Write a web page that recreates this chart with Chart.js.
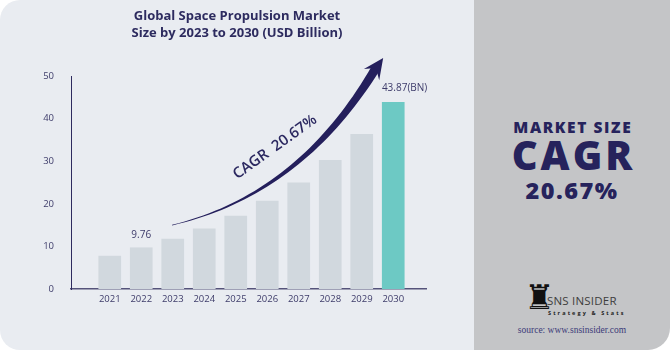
<!DOCTYPE html>
<html>
<head>
<meta charset="utf-8">
<script src="https://cdn.jsdelivr.net/npm/chart.js@4.4.1/dist/chart.umd.min.js"></script>
<style>
  html, body { margin: 0; padding: 0; background: #ffffff; }
  #wrap { position: relative; width: 670px; height: 350px; overflow: hidden; font-family: "Open Sans", sans-serif; }
  #left { position: absolute; left: 0; top: 0; width: 474px; height: 350px; background: #e9ecf1; border-radius: 20px 0 0 20px; }
  #right { position: absolute; left: 474px; top: 0; width: 196px; height: 350px; background: #c4c5c7; border-radius: 0 0 22px 0; }
  #chart { position: absolute; left: 0; top: 0; }
  #title { position: absolute; left: 0; top: 7px; width: 474px; text-align: center; color: #2d2b5f;
           font-size: 13px; font-weight: 700; line-height: 17px; }
  .big { position: absolute; left: 0; width: 196px; text-align: center; color: #26235c; font-weight: 800; line-height: 1; white-space: nowrap; }
  #ms { top: 120px; font-size: 15.5px; letter-spacing: 1.6px; text-indent: 1.6px; }
  #cagr { top: 135px; font-size: 40px; letter-spacing: 3px; text-indent: 3px; }
  #pct { top: 179px; font-size: 23.5px; letter-spacing: 1.5px; }
  #rook { position: absolute; left: 50px; top: 280px; font-family: "DejaVu Sans"; font-size: 34px; line-height: 1; color: #111; }
  #sns { position: absolute; left: 73px; top: 295px; font-size: 11.5px; color: #3d3d3d; letter-spacing: 0.2px; line-height: 1; }
  #tag { position: absolute; left: 74px; top: 311px; font-size: 5.5px; font-weight: 700; color: #222; letter-spacing: 2.1px; line-height: 1; }
  #src { position: absolute; left: 0; width: 196px; text-align: center; top: 326px; font-family: "Liberation Serif", serif; font-size: 9.5px; color: #3b3a78; line-height: 1; }
</style>
</head>
<body>
<div id="wrap">
  <div id="left">
    <canvas id="chart" width="474" height="350"></canvas>
    <div id="title">Global Space Propulsion Market<br>Size by 2023 to 2030 (USD Billion)</div>
  </div>
  <div id="right">
    <div class="big" id="ms">MARKET SIZE</div>
    <div class="big" id="cagr">CAGR</div>
    <div class="big" id="pct">20.67%</div>
    <div id="rook">♜</div>
    <div id="sns">SNS INSIDER</div>
    <div id="tag">Strategy &amp; Stats</div>
    <div id="src">source: www.snsinsider.com</div>
  </div>
</div>
<script>
// data
const years = [2021, 2022, 2023, 2024, 2025, 2026, 2027, 2028, 2029, 2030];
const marketSize = [7.8, 9.76, 11.8, 14.2, 17.2, 20.7, 25.0, 30.3, 36.4, 43.87];
const valueLabels = ["", "9.76", "", "", "", "", "", "", "", "43.87(BN)"];
const yTicks = [0, 10, 20, 30, 40, 50];

// arrow drawn in data space: start, control, end of body, tip
const arrowPath = [[2022.98, 15.0], [2027.04, 22.1], [2029.45, 51.9], [2029.68, 54.2]];
const cagrText = "CAGR  20.67%";

const barColors = years.map((y, i) => i === years.length - 1 ? "#6dc9c4" : "#d1d8de");

const valueLabelPlugin = {
  id: "valueLabels",
  afterDatasetsDraw(chart) {
    const ctx = chart.ctx;
    const meta = chart.getDatasetMeta(0);
    ctx.save();
    ctx.font = '10px "Open Sans"';
    ctx.fillStyle = "#3d3b6a";
    ctx.textBaseline = "middle";
    meta.data.forEach((bar, i) => {
      const t = valueLabels[i];
      if (!t) return;
      if (i === meta.data.length - 1) {//last label sits from the bar's left edge
        ctx.textAlign = "left";
        ctx.fillText(t, bar.x - bar.width / 2, bar.y - 13.5);
      } else {
        ctx.textAlign = "center";
        ctx.fillText(t, bar.x, bar.y - 12.5);
      }
    });
    ctx.restore();
  }
};

const arrowPlugin = {
  id: "cagrArrow",
  afterDraw(chart) {
    const { ctx, scales: { x, y } } = chart;
    const P = arrowPath.map(p => [x.getPixelForValue(p[0]), y.getPixelForValue(p[1])]);
    const [p0, c, p2, tip] = P;
    const left = [], right = [];
    const n = 40;
    for (let i = 0; i <= n; i++) {
      const t = i / n;
      const bx = (1 - t) * (1 - t) * p0[0] + 2 * (1 - t) * t * c[0] + t * t * p2[0];
      const by = (1 - t) * (1 - t) * p0[1] + 2 * (1 - t) * t * c[1] + t * t * p2[1];
      const dx = 2 * (1 - t) * (c[0] - p0[0]) + 2 * t * (p2[0] - c[0]);
      const dy = 2 * (1 - t) * (c[1] - p0[1]) + 2 * t * (p2[1] - c[1]);
      const len = Math.hypot(dx, dy);
      const nx = -dy / len, ny = dx / len;
      const w = 0.3 + 4.2 * Math.pow(t, 1.3);
      left.push([bx + nx * w, by + ny * w]);
      right.push([bx - nx * w, by - ny * w]);
    }
    ctx.save();
    ctx.fillStyle = "#241f5c";
    ctx.beginPath();
    ctx.moveTo(left[0][0], left[0][1]);
    left.forEach(p => ctx.lineTo(p[0], p[1]));
    for (let i = right.length - 1; i >= 0; i--) ctx.lineTo(right[i][0], right[i][1]);
    ctx.closePath();
    ctx.fill();

    // head
    const hx = tip[0] - p2[0], hy = tip[1] - p2[1];
    const hl = Math.hypot(hx, hy);
    const ux = hx / hl, uy = hy / hl;
    const vx = -uy, vy = ux;
    const back = [p2[0] - ux * 8, p2[1] - uy * 8];
    ctx.beginPath();
    ctx.moveTo(tip[0], tip[1]);
    ctx.lineTo(back[0] + vx * 10, back[1] + vy * 10);
    ctx.lineTo(p2[0], p2[1]);
    ctx.lineTo(back[0] - vx * 9, back[1] - vy * 9);
    ctx.closePath();
    ctx.fill();

    // CAGR label along the arrow
    const tx = x.getPixelForValue(2026.25), ty = y.getPixelForValue(33.3);
    ctx.translate(tx, ty);
    ctx.rotate(-35.6 * Math.PI / 180);
    ctx.font = '600 15px "Open Sans"';
    ctx.fillStyle = "#2b2860";
    ctx.textAlign = "center";
    ctx.textBaseline = "middle";
    ctx.fillText(cagrText, 0, 0);
    ctx.restore();
  }
};

const tickFont = { family: "Open Sans", size: 9.5 };

new Chart(document.getElementById("chart"), {
  type: "bar",
  data: {
    datasets: [{
      data: years.map((yr, i) => ({ x: yr, y: marketSize[i] })),
      backgroundColor: barColors,
      borderWidth: 0,
      barPercentage: 0.72,
      categoryPercentage: 1
    }]
  },
  options: {
    responsive: false,
    animation: false,
    devicePixelRatio: 1,
    layout: { padding: { top: 76, right: 48, bottom: 31, left: 0 } },
    plugins: { legend: { display: false }, tooltip: { enabled: false } },
    scales: {
      x: {
        type: "linear",
        offset: false,
        min: 2019.77,
        max: 2031.04,
        afterBuildTicks: s => { s.ticks = years.map(v => ({ value: v })); },
        afterFit: s => { s.height = 30; },
        grid: { display: false, drawTicks: false, offset: false },
        border: { display: true, color: "#55537a", width: 1.5 },
        ticks: { callback: v => String(v), font: tickFont, color: "#3e3c6a", padding: 5, autoSkip: false, maxRotation: 0 }
      },
      y: {
        min: 0,
        max: 50,
        afterBuildTicks: s => { s.ticks = yTicks.map(v => ({ value: v })); },
        afterFit: s => { s.width = 71; },
        grid: { display: false, drawTicks: false },
        border: { display: true, color: "#2e2b5f", width: 1 },
        ticks: { font: tickFont, color: "#3e3c6a", padding: 17 }
      }
    }
  },
  plugins: [valueLabelPlugin, arrowPlugin]
});
</script>
</body>
</html>
